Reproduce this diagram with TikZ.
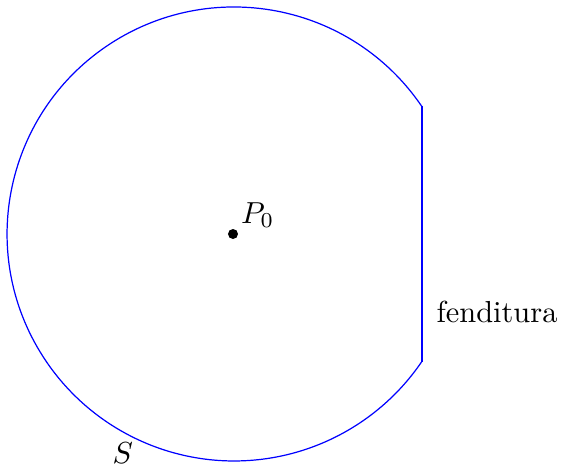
\documentclass[tikz,border=0pt]{standalone}
\begin{document}
\begin{tikzpicture}[x=0.329pt,y=-0.329pt,
  contour/.style={draw=blue,line width=0.4pt},
  slit/.style={draw=blue,line width=0.6pt},
  lbl/.style={inner sep=0pt}]
\useasboundingbox (0,0) rectangle (561,466);
\coordinate (c) at (233,234);
\coordinate (top) at (421.8,106.4);
\coordinate (bot) at (421.8,361.6);
% arc from top end of slit around the left to bottom end
\draw[contour] (top) arc[start angle=34.2, end angle=325.8, x radius=227, y radius=-227];
\draw[slit] (bot) -- (top);
\fill (c) circle[radius=5];
\node[lbl,anchor=base west] (p0) at (240.5,223) {$P_0$};
\node[lbl,anchor=base west] (s) at (112,464) {$S$};
\node[lbl,anchor=base west] (f) at (436,322) {fenditura};
\end{tikzpicture}
\end{document}
